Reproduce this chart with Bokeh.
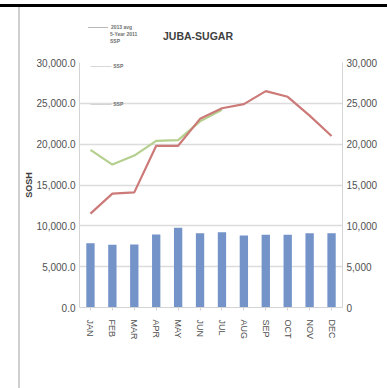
import numpy as np
from bokeh.plotting import figure
from bokeh.layouts import column, row
from bokeh.models import (ColumnDataSource, LinearAxis, NumeralTickFormatter, Label,
                          FixedTicker, Range1d, FactorRange, Div)
from bokeh.embed import file_html
from bokeh.resources import INLINE

months = ["JAN", "FEB", "MAR", "APR", "MAY", "JUN", "JUL", "AUG", "SEP", "OCT", "NOV", "DEC"]
volume = [7870, 7670, 7710, 8940, 9760, 9100, 9220, 8820, 8900, 8900, 9100, 9100]
price_red = [11500, 13950, 14100, 19800, 19800, 23100, 24400, 24900, 26500, 25800, 23500, 21000]
price_green = [19300, 17500, 18600, 20400, 20500, 22800, 24200,
               float("nan"), float("nan"), float("nan"), float("nan"), float("nan")]
y_ticks = [0, 5000, 10000, 15000, 20000, 25000, 30000]
title_text = "JUBA-SUGAR"
axis_title = "SOSH"
legend_texts = ["2013 avg", "5-Year 2011", "SSP", "SSP", "SSP"]

W, H = 387, 388
TOP_PAD, BAR_H = 4, 3
LEFT_PAD, RULE_W = 18, 2
HEAD_H = 48
OX, OY = LEFT_PAD + RULE_W, TOP_PAD + BAR_H          # content origin in page pixels
FW = W - OX
FH = H - OY - HEAD_H
FIG_Y0 = OY + HEAD_H                                   # figure top in page pixels
FRAME_L, FRAME_R, FRAME_T, FRAME_B = 77, 342, 62, 307  # page pixels
FONT = "'Liberation Sans Narrow', 'Arial Narrow', 'Liberation Sans', sans-serif"

src = ColumnDataSource(dict(m=months, v=volume, r=np.array(price_red, dtype=float),
                            g=np.array(price_green, dtype=float)))

p = figure(width=FW, height=FH, x_range=FactorRange(*months), y_range=Range1d(0, 30000),
           output_backend="svg", toolbar_location=None,
           min_border_left=FRAME_L - OX, min_border_right=W - FRAME_R,
           min_border_top=FRAME_T - FIG_Y0, min_border_bottom=H - FRAME_B)
p.outline_line_color = None
p.background_fill_color = "white"
p.border_fill_color = "white"
p.margin = (0, 0, 0, 0)

p.vbar(x="m", top="v", width=0.38, source=src, fill_color="#7393c9", line_color=None)
p.line(x="m", y="g", source=src, line_color="#b5cf8e", line_width=2.2)
p.line(x="m", y="r", source=src, line_color="#cc7a78", line_width=2.2)

# axes
for ax in (p.yaxis[0],):
    ax.ticker = FixedTicker(ticks=y_ticks)
    ax.formatter = NumeralTickFormatter(format="0,0.0")
ra = LinearAxis(ticker=FixedTicker(ticks=y_ticks), formatter=NumeralTickFormatter(format="0,0"))
p.add_layout(ra, "right")
for ax in (p.yaxis[0], ra):
    ax.axis_line_color = "#d4d4d4"
    ax.major_tick_line_color = None
    ax.minor_tick_line_color = None
    ax.major_tick_out = 0
    ax.major_tick_in = 0
    ax.minor_tick_out = 0
    ax.major_label_text_font = FONT
    ax.major_label_text_font_size = "10px"
    ax.major_label_text_color = "#505050"
    ax.major_label_standoff = 4

p.yaxis[0].axis_label = axis_title
p.yaxis[0].axis_label_text_font = FONT
p.yaxis[0].axis_label_text_font_size = "9px"
p.yaxis[0].axis_label_text_font_style = "bold"
p.yaxis[0].axis_label_text_color = "#404040"
p.yaxis[0].axis_label_standoff = 0

p.xaxis.axis_line_color = "#d4d4d4"
p.xaxis.major_tick_line_color = "#d4d4d4"
p.xaxis.major_tick_out = 3
p.xaxis.major_tick_in = 0
p.xaxis.major_label_orientation = "vertical"
p.xaxis.major_label_text_font = FONT
p.xaxis.major_label_text_font_size = "9px"
p.xaxis.major_label_text_color = "#505050"
p.xaxis.major_label_standoff = 9

p.xgrid.grid_line_color = None
p.ygrid.grid_line_color = "#dcdcdc"
p.ygrid.grid_line_width = 1.5

# page pixel -> data coordinates (annotations inside the frame)
def dx(px):
    return (px - FRAME_L) / ((FRAME_R - FRAME_L) / len(months))

def dy(py):
    return (FRAME_B - py) / (FRAME_B - FRAME_T) * 30000

# faint legend fragments inside the plot area
for ly, t in ((65, legend_texts[3]), (103, legend_texts[4])):
    p.add_layout(Label(x=dx(88), y=dy(ly), text="\u2014\u2014\u2014",
                       text_font=FONT, text_font_size="7px",
                       text_color="#b8b8b8", text_align="left", text_baseline="middle"))
    p.add_layout(Label(x=dx(111), y=dy(ly), text=t,
                       text_font=FONT, text_font_size="5px", text_font_style="bold",
                       text_color="#707070", text_align="left", text_baseline="middle"))

# header: title and top legend fragments (positions in page pixels)
def hx(px):
    return px - OX

def hy(py):
    return py - OY

def span(x, y, txt, size, color, weight="bold", anchor="left"):
    tr = "translate(-50%,-50%)" if anchor == "center" else "translate(0,-50%)"
    return (f"<span style=\"position:absolute;left:{x}px;top:{y}px;transform:{tr};"
            f"white-space:nowrap;font-family:{FONT.replace(chr(39), '')};font-size:{size}px;"
            f"font-weight:{weight};color:{color};line-height:1\">{txt}</span>")

header_html = (
    f"<div style=\"position:relative;width:{FW}px;height:{HEAD_H}px;background:white\">"
    + span(hx(198), hy(36), title_text, 10.5, "#404040", anchor="center")
    + f"<div style=\"position:absolute;left:{hx(88)}px;top:{hy(27)}px;width:20px;height:1px;background:#b8b8b8\"></div>"
    + span(hx(111), hy(27), legend_texts[0], 5, "#707070")
    + span(hx(110), hy(34), legend_texts[1], 5, "#707070")
    + span(hx(110), hy(41), legend_texts[2], 5, "#707070")
    + "</div>"
)
header = Div(text=header_html, width=FW, height=HEAD_H, margin=(0, 0, 0, 0))

top_pad = Div(width=W, height=TOP_PAD, margin=(0, 0, 0, 0), styles={"background-color": "white"})
top_bar = Div(width=W, height=BAR_H, margin=(0, 0, 0, 0), styles={"background-color": "black"})
left_pad = Div(width=LEFT_PAD, height=H - OY, margin=(0, 0, 0, 0), styles={"background-color": "white"})
left_rule = Div(width=RULE_W, height=H - OY, margin=(0, 0, 0, 0), styles={"background-color": "#cfcfcf"})

layout = column(top_pad, top_bar,
                row(left_pad, left_rule, column(header, p, spacing=0), spacing=0),
                spacing=0)

open("out.html", "w").write(file_html(layout, INLINE))
